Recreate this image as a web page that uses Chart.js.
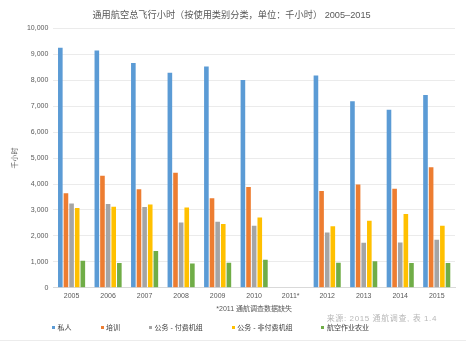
<!DOCTYPE html>
<html>
<head>
<meta charset="utf-8">
<script src="https://cdn.jsdelivr.net/npm/chart.js@4"></script>
<style>
	body { margin: 0; background: #fff; }
	#wrap { position: relative; width: 466px; height: 342px; }
	#wrap canvas { position: absolute; left: 0; top: 0; }
	#bottomLine { position: absolute; left: 0; top: 340px; width: 466px; height: 1px; background: #ececec; }
	#source { position: absolute; right: 29px; top: 314px; font: 8px "Liberation Sans", "Noto Sans CJK SC", sans-serif; letter-spacing: 0.6px; color: #b8b8b8; line-height: 9px; }
	#legend { position: absolute; left: 52px; top: 323px; font: 7px "Liberation Sans", "Noto Sans CJK SC", sans-serif; color: #404040; line-height: 10px; white-space: nowrap; }
	#legend span.item { display: inline-block; margin-right: 29px; }
	#legend span.box { display: inline-block; width: 3px; height: 3px; margin-right: 2.5px; vertical-align: 1.5px; }
</style>
</head>
<body>
<div id="wrap">
	<canvas id="chart" width="466" height="342"></canvas>
	<div id="source"></div>
	<div id="legend"></div>
	<div id="bottomLine"></div>
</div>
<script>
const years = ["2005", "2006", "2007", "2008", "2009", "2010", "2011*", "2012", "2013", "2014", "2015"];
const seriesNames = ["私人", "培训", "公务 - 付费机组", "公务 - 非付费机组", "航空作业农业"];
const seriesColors = ["#5B9BD5", "#ED7D31", "#A5A5A5", "#FFC000", "#70AD47"];

// thousand hours, 2011 survey missing
const privateHours = [9260, 9150, 8670, 8290, 8540, 8010, null, 8190, 7190, 6870, 7440];
const trainingHours = [3640, 4320, 3800, 4440, 3450, 3890, null, 3730, 3980, 3820, 4645];
const paidCrewHours = [3250, 3230, 3110, 2520, 2540, 2390, null, 2130, 1735, 1745, 1850];
const unpaidCrewHours = [3075, 3120, 3210, 3090, 2460, 2710, null, 2370, 2580, 2845, 2390];
const aerialAgHours = [1040, 950, 1420, 935, 960, 1075, null, 960, 1025, 950, 950];

const yTicks = [0, 1000, 2000, 3000, 4000, 5000, 6000, 7000, 8000, 9000, 10000];

const titleText = "通用航空总飞行小时（按使用类别分类，单位：千小时） 2005–2015";
const yTitle = "千小时";
const xNote = "*2011 通航调查数据缺失";
const sourceNote = "来源: 2015 通航调查, 表 1.4";

const fontFamily = '"Liberation Sans", "Noto Sans CJK SC", sans-serif';
const textColor = "#595959";

const allSeries = [privateHours, trainingHours, paidCrewHours, unpaidCrewHours, aerialAgHours];

const chart = new Chart(document.getElementById("chart"), {
	type: 'bar',
	data: {
		labels: years,
		datasets: allSeries.map((values, i) => ({
			label: seriesNames[i],
			data: values,
			backgroundColor: seriesColors[i],
			borderWidth: 0,
			barPercentage: 0.82,
			categoryPercentage: 0.77,
		}))
	},
	options: {
		responsive: false,
		animation: false,
		layout: {
			padding: { left: 8, right: 11, top: 0, bottom: 28.5 }
		},
		plugins: {
			legend: { display: false },
			tooltip: { enabled: false },
			title: {
				display: true,
				text: titleText,
				color: textColor,
				font: { family: fontFamily, size: 9.2, weight: 'normal' },
				padding: { top: 9.5, bottom: 8 }
			}
		},
		scales: {
			x: {
				grid: { display: false, drawTicks: false },
				border: { display: true, color: '#d9d9d9' },
				ticks: {
					color: textColor,
					font: { family: fontFamily, size: 7 },
					padding: 4,
					maxRotation: 0,
					autoSkip: false
				},
				title: {
					display: true,
					text: xNote,
					color: textColor,
					font: { family: fontFamily, size: 7 },
					padding: { top: 1, bottom: 0 }
				}
			},
			y: {
				min: 0,
				max: 10000,
				afterBuildTicks: axis => { axis.ticks = yTicks.map(v => ({ value: v })); },
				grid: { color: '#ebebeb', drawTicks: false },
				border: { display: false },
				ticks: {
					color: textColor,
					font: { family: fontFamily, size: 7 },
					padding: 5,
					callback: v => v.toLocaleString('en-US')
				},
				title: {
					display: true,
					text: yTitle,
					color: textColor,
					font: { family: fontFamily, size: 7 },
					padding: { top: 2.5, bottom: 3 }
				}
			}
		}
	}
});

document.getElementById("source").textContent = sourceNote;
const legendBox = document.getElementById("legend");
for (let i = 0; i < seriesNames.length; i++) {
	legendBox.innerHTML += `<span class="item"><span class="box" style="background:${seriesColors[i]}"></span>${seriesNames[i]}</span>`;
}
</script>
</body>
</html>
